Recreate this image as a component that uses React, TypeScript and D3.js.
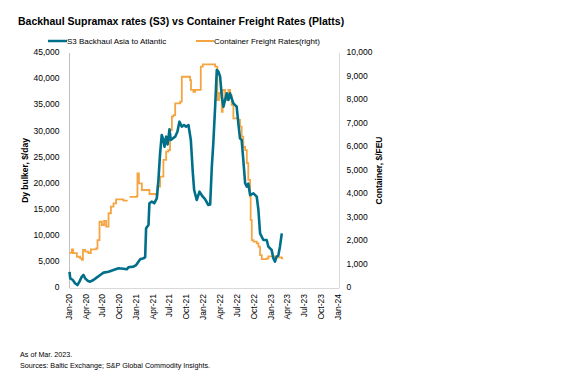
import * as d3 from "d3";

// S3 Backhaul Asia to Atlantic, $/day (left axis)
const s3Dates = [
  "2020-01-01", "2020-01-05", "2020-01-19", "2020-01-31", "2020-02-13", "2020-02-24",
  "2020-03-08", "2020-03-17", "2020-03-26", "2020-04-08", "2020-04-22", "2020-05-10",
  "2020-05-29", "2020-06-16", "2020-07-04", "2020-07-31", "2020-08-27", "2020-09-23",
  "2020-10-20", "2020-11-07", "2020-11-16", "2020-12-13", "2020-12-28", "2021-01-19",
  "2021-02-06", "2021-02-15", "2021-02-20", "2021-03-05", "2021-03-10", "2021-03-23",
  "2021-04-05", "2021-04-19", "2021-04-28", "2021-05-07", "2021-05-16", "2021-05-25",
  "2021-05-31", "2021-06-09", "2021-06-17", "2021-06-27", "2021-07-04", "2021-07-28",
  "2021-08-09", "2021-08-20", "2021-09-02", "2021-09-14", "2021-09-25", "2021-10-08",
  "2021-10-21", "2021-11-01", "2021-11-08", "2021-11-22", "2021-12-07", "2021-12-25",
  "2022-01-06", "2022-01-24", "2022-02-03", "2022-02-12", "2022-02-20", "2022-03-02",
  "2022-03-11", "2022-03-20", "2022-03-29", "2022-04-07", "2022-04-16", "2022-04-25",
  "2022-05-04", "2022-05-13", "2022-05-22", "2022-06-09", "2022-06-27", "2022-07-06",
  "2022-07-15", "2022-07-24", "2022-08-02", "2022-08-12", "2022-08-21", "2022-08-29",
  "2022-09-08", "2022-09-26", "2022-10-14", "2022-10-23", "2022-11-01", "2022-11-19",
  "2022-12-07", "2022-12-16", "2023-01-03", "2023-01-12", "2023-01-21", "2023-01-30",
  "2023-02-08", "2023-02-17", "2023-02-27",
];
const s3Rates = [
  3100, 1850, 1530, 900, 570, 1210,
  2170, 2490, 1850, 1400, 1210, 1530,
  2040, 2490, 2940, 3130, 3450, 3770,
  3700, 3580, 3960, 4090, 4400, 5490,
  5680, 5900, 11430, 12070, 16220, 16530,
  16220, 17180, 20680, 25790, 29300, 28340,
  27060, 28980, 27500, 30390, 28340, 28980,
  29930, 31850, 30890, 31200, 30890, 31210,
  28340, 21960, 18770, 16850, 18440, 17480,
  17000, 15890, 16000, 23230, 27700, 34720,
  41750, 41430, 40470, 36630, 34720, 36000,
  37280, 36000, 37280, 35370, 34720, 31540,
  28660, 28340, 24510, 20050, 19400, 20000,
  17810, 18130, 17480, 14940, 10470, 9190,
  9190, 7910, 7280, 5690, 5040, 6000,
  6200, 7910, 10470,
];

// Container Freight Rates, $/FEU (right axis)
const cfrDates = [
  "2020-01-01", "2020-01-14", "2020-01-21", "2020-02-10", "2020-02-28", "2020-03-08",
  "2020-03-14", "2020-03-26", "2020-04-13", "2020-04-26", "2020-05-10", "2020-05-25",
  "2020-06-01", "2020-06-12", "2020-06-25", "2020-07-07", "2020-07-18", "2020-07-31",
  "2020-08-13", "2020-08-27", "2020-09-10", "2020-10-02", "2020-10-20", "2020-11-12",
  "2020-11-16", "2020-11-22", "2021-01-01", "2021-01-04", "2021-01-12", "2021-01-28",
  "2021-03-10", "2021-04-15", "2021-04-23", "2021-05-07", "2021-05-25", "2021-06-09",
  "2021-06-21", "2021-06-30", "2021-07-10", "2021-07-18", "2021-07-28", "2021-08-24",
  "2021-09-02", "2021-10-08", "2021-10-17", "2021-10-22", "2021-11-04", "2021-11-13",
  "2021-12-10", "2021-12-14", "2021-12-25", "2022-02-24", "2022-03-02", "2022-03-14",
  "2022-03-23", "2022-04-07", "2022-04-12", "2022-04-25", "2022-05-13", "2022-05-22",
  "2022-05-31", "2022-06-09", "2022-07-06", "2022-07-15", "2022-07-24", "2022-08-02",
  "2022-08-12", "2022-08-21", "2022-08-29", "2022-09-08", "2022-09-11", "2022-09-17",
  "2022-09-26", "2022-10-14", "2022-10-23", "2022-11-01", "2022-11-10", "2022-12-07",
  "2022-12-16", "2023-01-21", "2023-02-08", "2023-02-27", "2023-03-06",
];
const cfrRates: (number | null)[] = [
  1500, 1640, 1480, 1330, 1260, 1200,
  1620, 1550, 1480, 1640, 1640, 1690,
  2040, 2820, 2680, 2860, 2610, 3180,
  3460, 3600, 3770, 3770, 3720, 3720,
  null, 3880, 3910, 4880, 4450, 4170,
  4000, 3960, 4310, 4740, 5450, 5800,
  5870, 6720, 7290, 7360, 7860, 7930,
  8990, 8990, 8850, 8430, 8350, 8430,
  8430, 9420, 9520, 9520, 9420, 8000,
  8300, 7500, 8430, 8000, 8430, 8200,
  7790, 7220, 7150, 6870, 6440, 6000,
  5870, 5310, 4600, 3890, 2890, 2040,
  1970, 1900, 1760, 1400, 1230, 1260,
  1350, 1330, 1300, 1260, 1260,
];

const leftTicks = [0, 5000, 10000, 15000, 20000, 25000, 30000, 35000, 40000, 45000];
const rightTicks = [0, 1000, 2000, 3000, 4000, 5000, 6000, 7000, 8000, 9000, 10000];
const xTicks = [
  "2020-01-01", "2020-04-01", "2020-07-01", "2020-10-01",
  "2021-01-01", "2021-04-01", "2021-07-01", "2021-10-01",
  "2022-01-01", "2022-04-01", "2022-07-01", "2022-10-01",
  "2023-01-01", "2023-04-01", "2023-07-01", "2023-10-01",
  "2024-01-01",
];

const TEAL = "#006f8a";
const ORANGE = "#f4a541";
const FONT = "'Liberation Sans', Arial, sans-serif";

export default function App() {
  const W = 577;
  const H = 390;
  const left = 69.5;
  const right = 339.5;
  const top = 53;
  const bottom = 288;

  const parse = d3.utcParse("%Y-%m-%d");
  const x = d3
    .scaleUtc()
    .domain([parse("2020-01-01")!, parse("2024-01-01")!])
    .range([left, right - 1]);
  const yL = d3.scaleLinear().domain([0, 45000]).range([bottom, top]);
  const yR = d3.scaleLinear().domain([0, 10000]).range([bottom, top]);
  const fmt = d3.format(",");
  const fmtDate = d3.utcFormat("%b-%y");

  const s3 = s3Dates.map((d, i) => ({ d: parse(d)!, v: s3Rates[i] }));
  const cfr = cfrDates.map((d, i) => ({ d: parse(d)!, v: cfrRates[i] }));

  const s3Line = d3
    .line<{ d: Date; v: number }>()
    .x((p) => x(p.d))
    .y((p) => yL(p.v));
  const cfrLine = d3
    .line<{ d: Date; v: number | null }>()
    .defined((p) => p.v != null)
    .x((p) => x(p.d))
    .y((p) => yR(p.v as number))
    .curve(d3.curveStepAfter);

  return (
    <svg
      width={W}
      height={H}
      style={{ position: "absolute", left: 0, top: 0, background: "#fff" }}
      fontFamily={FONT}
    >
      <text x={18} y={25} fontSize={10.5} fontWeight="bold" fill="#000">
        Backhaul Supramax rates (S3) vs Container Freight Rates (Platts)
      </text>

      {/* legend */}
      <g fontSize={8} fill="#000">
        <line x1={48} x2={67} y1={41} y2={41} stroke={TEAL} strokeWidth={2.5} />
        <text x={67} y={44}>S3 Backhaul Asia to Atlantic</text>
        <line x1={196} x2={214} y1={41} y2={41} stroke={ORANGE} strokeWidth={2} />
        <text x={214} y={44}>Container Freight Rates(right)</text>
      </g>

      {/* axes lines */}
      <line x1={left} x2={left} y1={top} y2={bottom} stroke="#bfbfbf" />
      <line x1={right} x2={right} y1={top} y2={bottom} stroke="#d9d9d9" />
      <line x1={left} x2={right} y1={bottom + 0.5} y2={bottom + 0.5} stroke="#d9d9d9" />

      <g fontSize={8.5} fill="#000">
        {leftTicks.map((t) => (
          <text key={t} x={left - 10} y={yL(t)} textAnchor="end" dominantBaseline="middle">
            {fmt(t)}
          </text>
        ))}
        {rightTicks.map((t) => (
          <text key={t} x={right + 7} y={yR(t)} dominantBaseline="middle">
            {fmt(t)}
          </text>
        ))}
        {xTicks.map((t) => {
          const px = x(parse(t)!);
          return (
            <text
              key={t}
              transform={`translate(${px},${bottom + 6}) rotate(-90)`}
              textAnchor="end"
              dominantBaseline="middle"
            >
              {fmtDate(parse(t)!)}
            </text>
          );
        })}
      </g>

      <text
        transform={`translate(26,${(top + bottom) / 2}) rotate(-90)`}
        textAnchor="middle"
        dominantBaseline="middle"
        fontSize={8.5}
        fontWeight="bold"
      >
        Dy bulker, $/day
      </text>
      <text
        transform={`translate(380,${(top + bottom) / 2}) rotate(-90)`}
        textAnchor="middle"
        dominantBaseline="middle"
        fontSize={8.5}
        fontWeight="bold"
      >
        Container, $/FEU
      </text>

      <path d={cfrLine(cfr) ?? ""} fill="none" stroke={ORANGE} strokeWidth={1.8} />
      <path
        d={s3Line(s3) ?? ""}
        fill="none"
        stroke={TEAL}
        strokeWidth={2.6}
        strokeLinejoin="round"
      />

      <g fontSize={7.2} fill="#000">
        <text x={20} y={357}>As of Mar. 2023.</text>
        <text x={20} y={368}>Sources: Baltic Exchange; S&amp;P Global Commodity Insights.</text>
      </g>
    </svg>
  );
}
